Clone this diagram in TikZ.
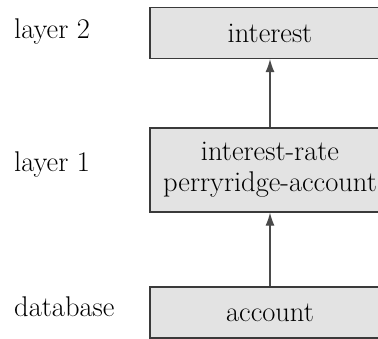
\documentclass[tikz,border=0pt]{standalone}
\usepackage{xcolor}
\usepackage{tikz}
\usetikzlibrary{arrows.meta, positioning}
\definecolor{boxfill}{HTML}{E3E3E3}
\definecolor{boxline}{HTML}{3A3A3A}
\definecolor{arrline}{HTML}{4A4A4A}

\begin{document}
\begin{tikzpicture}[
    x=1pt, y=1pt,
    font=\fontsize{28.5}{31}\selectfont,
    relbox/.style={rectangle, draw=boxline, fill=boxfill, line width=1.3pt,
                   minimum width=240pt, minimum height=51pt, align=center, inner sep=1pt},
    layerlbl/.style={anchor=base west, inner sep=0pt},
    arr/.style={-{Latex[length=13pt, width=9pt]}, draw=arrline, line width=1.1pt},
]
    % -- frame: the boxes run past the right edge --
    \useasboundingbox (0,0) rectangle (378,-339);
    \clip (0,0) rectangle (378,-339);

    % -- relations, one column --
    \def\colR{270}
    \node[relbox] (intr) at (\colR, -33)  {interest};
    \node[relbox, minimum height=84pt] (rate) at (\colR, -170) {interest-rate\\perryridge-account};
    \node[relbox] (acct) at (\colR, -312.5) {account};

    % -- layer names --
    \node[layerlbl] (ltwo) at (14, -39)  {layer 2};
    \node[layerlbl] (lone) at (14, -172) {layer 1};
    \node[layerlbl] (ldb)  at (14, -317) {database};

    % -- derived from --
    \draw[arr] (acct) -- (rate);
    \draw[arr] (rate) -- (intr);
\end{tikzpicture}
\end{document}
